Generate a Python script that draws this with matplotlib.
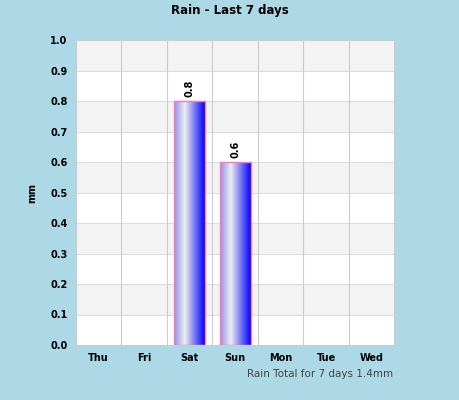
import matplotlib
matplotlib.use("Agg")
import matplotlib.pyplot as plt
import numpy as np
from matplotlib.colors import LinearSegmentedColormap

days = ["Thu", "Fri", "Sat", "Sun", "Mon", "Tue", "Wed"]
rain = [0.0, 0.0, 0.8, 0.6, 0.0, 0.0, 0.0]
y_ticks = [0.0, 0.1, 0.2, 0.3, 0.4, 0.5, 0.6, 0.7, 0.8, 0.9, 1.0]
total_text = "Rain Total for 7 days 1.4mm"

bg = "#add8e6"
fig = plt.figure(figsize=(4.6, 4.0), dpi=100)
fig.patch.set_facecolor(bg)
ax = fig.add_axes([0.165, 0.1375, 0.692, 0.7625])
ax.set_facecolor("white")

x = np.arange(len(days))

# alternating bands
for i in range(10):
    if i % 2 == 1:
        ax.axhspan(y_ticks[i], y_ticks[i + 1], color="#f3f3f3", zorder=0, lw=0)
for t in y_ticks[1:-1]:
    ax.axhline(t, color="#dddddd", lw=0.8, zorder=0.5)
for b in np.arange(0.5, len(days) - 0.5, 1):
    ax.axvline(b, color="#cccccc", lw=0.8, zorder=0.5)

cmap = LinearSegmentedColormap.from_list(
    "rain", [(0.0, "#9090f0"), (0.35, "#eeeeee"), (1.0, "#0000ff")])
grad = np.linspace(0, 1, 256).reshape(1, -1)
width = 0.68
edges = ["#ff77bb" if v > 0 else "none" for v in rain]
bars = ax.bar(x, rain, width=width, color="none", edgecolor=edges,
              lw=1.0, zorder=3)
for bar, v in zip(bars, rain):
    if v <= 0:
        continue
    x0 = bar.get_x()
    ax.imshow(grad, cmap=cmap, aspect="auto", zorder=2,
              extent=[x0, x0 + width, 0, v], interpolation="bicubic")
    ax.text(x0 + width / 2, v + 0.012, f"{v:.1f}", rotation=90,
            ha="center", va="bottom", fontsize=7, fontweight="bold")
ax.set_xlim(-0.5, len(days) - 0.5)
ax.set_ylim(0, 1.0)

ax.set_xticks(x)
ax.set_xticklabels(days, fontsize=7, fontweight="bold")
ax.set_yticks(y_ticks)
ax.set_yticklabels([f"{t:.1f}" for t in y_ticks], fontsize=7, fontweight="bold")
ax.tick_params(length=0, pad=6)
for s in ax.spines.values():
    s.set_color("#cccccc")
    s.set_linewidth(0.8)

ax.set_ylabel("mm", fontsize=7, fontweight="bold", labelpad=9)
fig.text(0.5, 0.973, "Rain - Last 7 days", ha="center", va="center",
         fontsize=8.5, fontweight="bold")
fig.text(0.855, 0.065, total_text, ha="right", va="center",
         fontsize=7.5, color="#444444")

fig.savefig("out.png", dpi=100, facecolor=bg)
